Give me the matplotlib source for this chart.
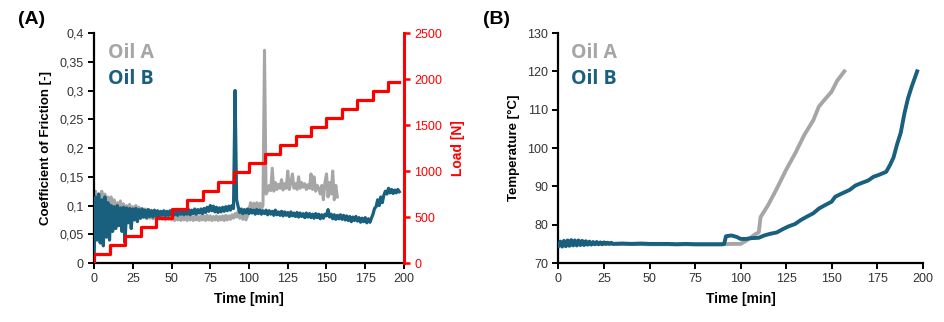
import matplotlib
matplotlib.use("Agg")
import matplotlib.pyplot as plt
from matplotlib.ticker import FuncFormatter
import numpy as np

plt.rcParams['font.family'] = ['Liberation Sans', 'DejaVu Sans']

GRAY = "#a6a6a6"
BLUE = "#19607f"
RED = "#ff0000"

# --- (A) coefficient of friction, 1 sample per minute ---
cof_a = [
    0.08, 0.125, 0.09, 0.12, 0.085, 0.125, 0.095, 0.12, 0.09, 0.115,
    0.085, 0.115, 0.088, 0.11, 0.085, 0.105, 0.083, 0.108, 0.082, 0.103,
    0.08, 0.10, 0.082, 0.102, 0.08, 0.098, 0.079, 0.10, 0.08, 0.097,
    0.078, 0.095, 0.079, 0.094, 0.077, 0.093, 0.078, 0.092, 0.077, 0.091,
    0.076, 0.090, 0.077, 0.089, 0.076, 0.088, 0.075, 0.089, 0.076, 0.087,
    0.075, 0.086, 0.074, 0.085, 0.075, 0.084, 0.074, 0.083, 0.075, 0.082,
    0.074, 0.082, 0.075, 0.081, 0.074, 0.082, 0.075, 0.081, 0.074, 0.082,
    0.075, 0.082, 0.074, 0.083, 0.075, 0.082, 0.074, 0.081, 0.075, 0.082,
    0.074, 0.081, 0.075, 0.082, 0.074, 0.083, 0.075, 0.082, 0.076, 0.084,
    0.078, 0.086, 0.080, 0.090, 0.078, 0.084, 0.076, 0.083, 0.075, 0.082,
    0.092, 0.105, 0.094, 0.104, 0.093, 0.105, 0.095, 0.104, 0.094, 0.10,
    0.37, 0.12, 0.125, 0.135, 0.126, 0.165, 0.125, 0.14, 0.128, 0.137,
    0.13, 0.145, 0.127, 0.138, 0.13, 0.16, 0.128, 0.14, 0.155, 0.13,
    0.138, 0.128, 0.15, 0.13, 0.14, 0.132, 0.138, 0.128, 0.136, 0.13,
    0.155, 0.128, 0.15, 0.125, 0.135, 0.13, 0.12, 0.135, 0.11, 0.14,
    0.155, 0.115, 0.14, 0.12, 0.16, 0.11, 0.135, 0.115,
]
cof_b = [
    0.005, 0.115, 0.04, 0.12, 0.035, 0.11, 0.03, 0.115, 0.045, 0.105,
    0.04, 0.10, 0.055, 0.098, 0.06, 0.10, 0.065, 0.096, 0.055, 0.097,
    0.035, 0.096, 0.07, 0.095, 0.06, 0.094, 0.075, 0.095, 0.072, 0.093,
    0.078, 0.094, 0.08, 0.092, 0.079, 0.093, 0.081, 0.091, 0.08, 0.092,
    0.082, 0.091, 0.081, 0.090, 0.083, 0.091, 0.082, 0.090, 0.083, 0.091,
    0.083, 0.092, 0.084, 0.091, 0.083, 0.092, 0.085, 0.093, 0.084, 0.092,
    0.085, 0.093, 0.084, 0.092, 0.086, 0.094, 0.085, 0.093, 0.087, 0.094,
    0.086, 0.095, 0.088, 0.097, 0.090, 0.100, 0.091, 0.099, 0.089, 0.097,
    0.088, 0.096, 0.089, 0.097, 0.090, 0.098, 0.091, 0.099, 0.092, 0.100,
    0.095, 0.30, 0.11, 0.098, 0.088, 0.094, 0.086, 0.093, 0.087, 0.094,
    0.086, 0.093, 0.087, 0.092, 0.085, 0.093, 0.086, 0.092, 0.085, 0.091,
    0.086, 0.092, 0.084, 0.091, 0.085, 0.090, 0.083, 0.092, 0.084, 0.089,
    0.083, 0.090, 0.082, 0.089, 0.083, 0.088, 0.081, 0.089, 0.082, 0.087,
    0.081, 0.088, 0.080, 0.087, 0.081, 0.086, 0.079, 0.087, 0.080, 0.086,
    0.079, 0.085, 0.078, 0.086, 0.079, 0.085, 0.077, 0.084, 0.078, 0.085,
    0.082, 0.093, 0.080, 0.085, 0.077, 0.084, 0.076, 0.083, 0.077, 0.084,
    0.076, 0.083, 0.075, 0.082, 0.074, 0.081, 0.072, 0.080, 0.074, 0.081,
    0.073, 0.079, 0.071, 0.078, 0.072, 0.079, 0.070, 0.077, 0.071, 0.078,
    0.085, 0.095, 0.098, 0.11, 0.10, 0.115, 0.105, 0.118, 0.125, 0.12,
    0.13, 0.122, 0.128, 0.121, 0.127, 0.122, 0.128, 0.124,
]
time_a = np.arange(len(cof_a))
time_b = np.arange(len(cof_b))

# load steps, every 10 min
load_time = [0, 0, 10, 20, 30, 40, 50, 60, 70, 80, 90, 100,
             110, 120, 130, 140, 150, 160, 170, 180, 190, 197]
load_val = [0, 100, 192, 293, 391, 489, 590, 688, 786, 884, 985, 1083,
            1181, 1279, 1377, 1478, 1576, 1674, 1775, 1873, 1971, 1971]

# --- (B) temperature ---
temp_a_t = [0, 10, 20, 30, 40, 50, 60, 70, 80, 90, 95, 100, 103, 106, 108,
            110, 111, 115, 120, 125, 130, 135, 140, 143, 146, 150, 153, 157]
temp_a = [75.2, 75.1, 75.0, 75.0, 75.0, 74.9, 74.9, 74.9, 74.9, 74.9, 75.0,
          75.0, 75.8, 76.8, 77.5, 78.0, 82.0, 85.0, 89.5, 94.3, 98.6, 103.4,
          107.3, 110.8, 112.5, 114.7, 117.5, 120.0]

temp_b_t = list(range(0, 31)) + [35, 40, 45, 50, 55, 60, 65, 70, 75, 80, 85, 90,
            91, 92, 95, 98, 100, 103, 106, 110, 113, 116, 120, 123, 126, 130,
            133, 136, 140, 143, 146, 150, 152, 155, 160, 163, 166, 170, 173,
            176, 180, 182, 184, 186, 188, 190, 192, 194, 197]
temp_b = [74.5, 75.6, 74.3, 75.8, 74.4, 75.9, 74.5, 76.0, 74.6, 75.9,
          74.6, 75.9, 74.7, 75.8, 74.7, 75.7, 74.8, 75.6, 74.8, 75.5,
          74.9, 75.5, 74.9, 75.4, 74.9, 75.4, 75.0, 75.3, 75.0, 75.3, 75.0,
          75.1, 75.0, 75.1, 75.0, 75.0, 75.0, 74.9, 75.0, 74.9, 74.9, 74.9, 74.9,
          75.0, 77.0, 77.2, 76.8, 76.3, 76.3, 76.5, 76.6, 77.2, 77.6, 78.0,
          78.8, 79.5, 80.2, 81.2, 82.0, 83.0, 84.2, 85.0, 86.0, 87.3, 88.0,
          89.1, 90.2, 90.8, 91.5, 92.5, 93.0, 93.8, 95.5, 97.5, 101.0, 104.0,
          109.0, 113.0, 116.0, 120.0]


def comma(x, pos):
    s = f"{x:g}"
    return s.replace(".", ",")


def style_axis(ax):
    ax.spines['top'].set_visible(False)
    ax.spines['left'].set_linewidth(1.6)
    ax.spines['bottom'].set_linewidth(1.6)
    ax.tick_params(direction='out', length=4, width=1.4, labelsize=9,
                   labelcolor='#333333')
    ax.set_xlim(0, 200)
    ax.set_xticks(range(0, 201, 25))
    ax.set_xlabel("Time [min]", fontsize=10, fontweight='bold', labelpad=5)


fig = plt.figure(figsize=(9.45, 3.22), dpi=100)

# panel A
ax1 = fig.add_axes([0.0995, 0.183, 0.328, 0.7145])
ax1.plot(time_a, cof_a, color=GRAY, lw=2.2, zorder=2)
ax1.plot(time_b, cof_b, color=BLUE, lw=2.3, zorder=3)
ax1.set_ylim(0, 0.4)
ax1.set_yticks(np.arange(0, 0.41, 0.05))
ax1.yaxis.set_major_formatter(FuncFormatter(comma))
style_axis(ax1)
ax1.spines['right'].set_visible(False)
ax1.set_ylabel("Coefficient of Friction [-]", fontsize=9.5, fontweight='bold',
               labelpad=5)

ax2 = ax1.twinx()
ax2.plot(load_time, load_val, color=RED, lw=2.3, drawstyle='steps-post', zorder=4)
ax2.set_ylim(0, 2500)
ax2.set_yticks(range(0, 2501, 500))
ax2.spines['top'].set_visible(False)
ax2.spines['left'].set_visible(False)
ax2.spines['bottom'].set_visible(False)
ax2.spines['right'].set_color(RED)
ax2.spines['right'].set_linewidth(2.2)
ax2.tick_params(axis='y', colors=RED, length=4, width=1.8, labelsize=9)
ax2.set_ylabel("Load [N]", color=RED, fontsize=10, fontweight='bold',
               rotation=90, labelpad=6)

ax1.text(0.045, 0.915, "Oil A", transform=ax1.transAxes, color=GRAY,
         fontsize=14, fontweight='bold', family=['Open Sans', 'DejaVu Sans'], va='center')
ax1.text(0.045, 0.80, "Oil B", transform=ax1.transAxes, color=BLUE,
         fontsize=14, fontweight='bold', family=['Open Sans', 'DejaVu Sans'], va='center')

# panel B
ax3 = fig.add_axes([0.591, 0.183, 0.3853, 0.7145])
ax3.plot(temp_a_t, temp_a, color=GRAY, lw=2.8, zorder=2)
ax3.plot(temp_b_t, temp_b, color=BLUE, lw=2.8, zorder=3)
ax3.set_ylim(70, 130)
ax3.set_yticks(range(70, 131, 10))
style_axis(ax3)
ax3.spines['right'].set_visible(False)
ax3.set_ylabel("Temperature [°C]", fontsize=9.5, fontweight='bold', labelpad=5)

ax3.text(0.035, 0.915, "Oil A", transform=ax3.transAxes, color=GRAY,
         fontsize=14, fontweight='bold', family=['Open Sans', 'DejaVu Sans'], va='center')
ax3.text(0.035, 0.80, "Oil B", transform=ax3.transAxes, color=BLUE,
         fontsize=14, fontweight='bold', family=['Open Sans', 'DejaVu Sans'], va='center')

fig.text(0.019, 0.94, "(A)", fontsize=14, fontweight='bold', va='center')
fig.text(0.511, 0.94, "(B)", fontsize=14, fontweight='bold', va='center')

fig.savefig("out.png", dpi=100)
